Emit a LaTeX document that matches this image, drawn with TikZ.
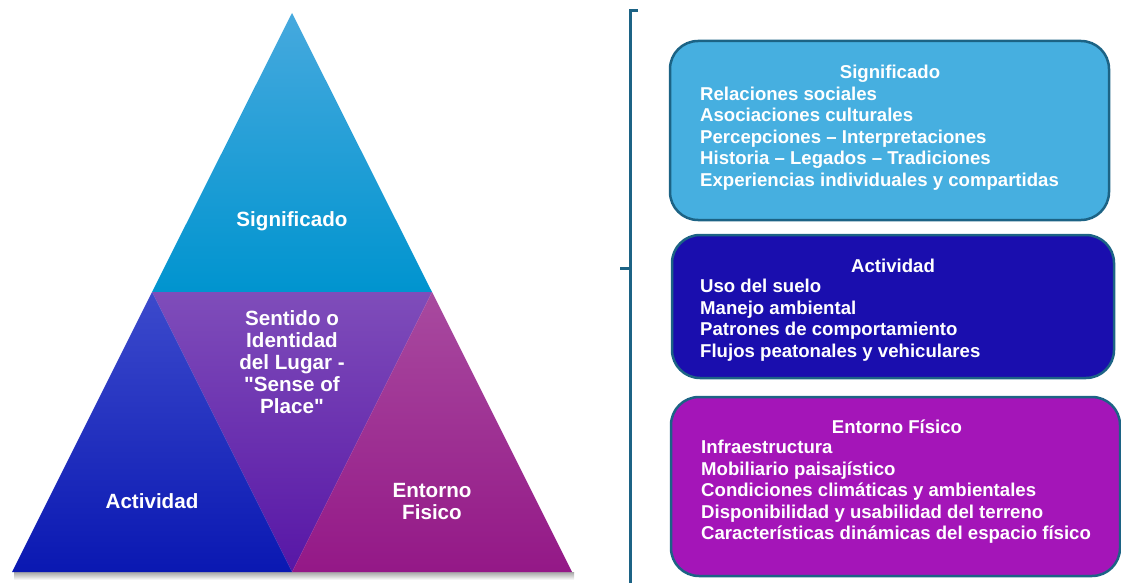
\documentclass[tikz,border=0pt]{standalone}
\usepackage{fontspec}
\setmainfont{Liberation Sans}[Ligatures=TeXOff]
\definecolor{sigtop}{HTML}{46A9DE}
\definecolor{sigbot}{HTML}{0094CF}
\definecolor{midtop}{HTML}{7F4DBA}
\definecolor{midbot}{HTML}{5716A6}
\definecolor{acttop}{HTML}{3C4ACC}
\definecolor{actbot}{HTML}{0A18B2}
\definecolor{enttop}{HTML}{A84A9F}
\definecolor{entbot}{HTML}{941887}
\definecolor{frame}{HTML}{1C6385}
\definecolor{box1}{HTML}{46AFE0}
\definecolor{box2}{HTML}{1A0EAE}
\definecolor{box3}{HTML}{A415B8}
\tikzset{
  trilabel/.style={text=white, font=\fontsize{20.6}{22}\selectfont\bfseries, align=center, inner sep=0pt},
  infobox/.style={draw=frame, line width=2.5pt, rounded corners=28pt},
  boxtitle/.style={text=white, font=\fontsize{18.6}{21.5}\selectfont\bfseries, inner sep=0pt, anchor=center},
  boxlist/.style={text=white, font=\fontsize{18.6}{21.5}\selectfont\bfseries, align=left, inner sep=0pt, anchor=north west},
  bracket/.style={draw=frame, line width=3pt}
}
\begin{document}
\begin{tikzpicture}[x=1pt,y=-1pt]
\useasboundingbox (0,0) rectangle (1121,583);
% soft shadow under base
\shade[top color=black!35, bottom color=white] (14,572) rectangle (574,580);
% triangles
\shade[top color=sigtop, bottom color=sigbot] (292,13) -- (432,292) -- (152,292) -- cycle;
\shade[top color=midtop, bottom color=midbot] (152,292) -- (432,292) -- (292,572) -- cycle;
\shade[top color=acttop, bottom color=actbot] (152,292) -- (292,572) -- (12,572) -- cycle;
\shade[top color=enttop, bottom color=entbot] (432,292) -- (572,572) -- (292,572) -- cycle;
% triangle labels
\node[trilabel] (tsig) at (292,221) {Significado};
\node[trilabel] (tsense) at (292,362) {Sentido o\\Identidad\\del Lugar -\\"Sense of\\Place"};
\node[trilabel] (tact) at (152,501) {Actividad};
\node[trilabel] (tent) at (432,502) {Entorno\\Fisico};
% bracket
\draw[bracket] (638,11) -- (630,11) -- (630,583);
\draw[bracket] (620,268) -- (630,268);
% boxes
\path[infobox, fill=box1] (670,41) rectangle (1109,220);
\path[infobox, fill=box2] (672,235) rectangle (1114,378);
\path[infobox, fill=box3] (671,397) rectangle (1120,576);
\node[boxtitle] (t1) at (890,74) {Significado};
\node[boxlist] (l1) at (700,86.5) {Relaciones sociales\\Asociaciones culturales\\Percepciones – Interpretaciones\\Historia – Legados – Tradiciones\\Experiencias individuales y compartidas};
\node[boxtitle] (t2) at (893,266) {Actividad};
\node[boxlist] (l2) at (700,279) {Uso del suelo\\Manejo ambiental\\Patrones de comportamiento\\Flujos peatonales y vehiculares};
\node[boxtitle] (t3) at (897,427) {Entorno Físico};
\node[boxlist] (l3) at (701,440) {Infraestructura\\Mobiliario paisajístico\\Condiciones climáticas y ambientales\\Disponibilidad y usabilidad del terreno\\Características dinámicas del espacio físico};
\end{tikzpicture}
\end{document}
